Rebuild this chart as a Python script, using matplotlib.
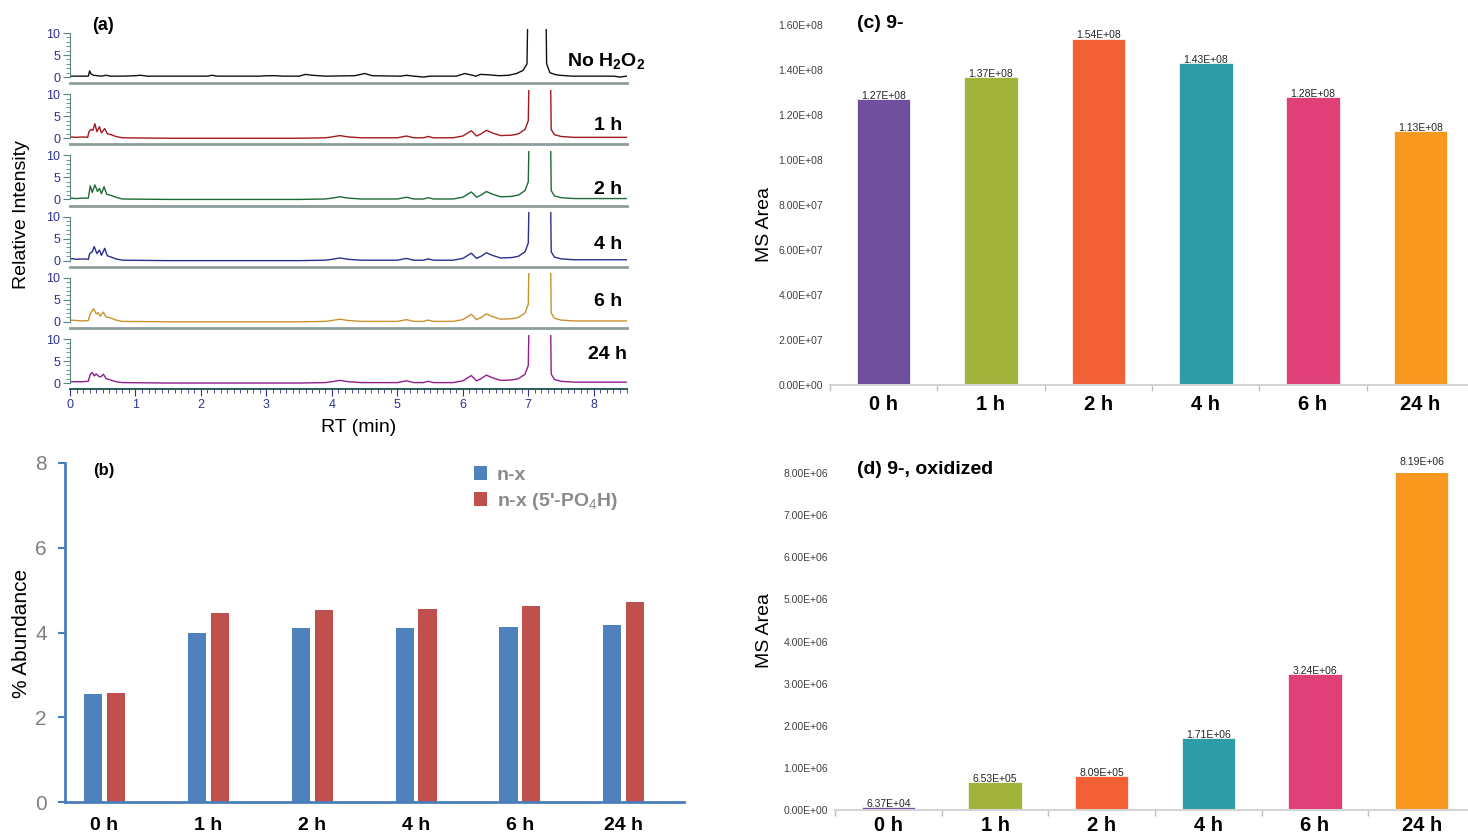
import matplotlib
matplotlib.use("Agg")
import matplotlib.pyplot as plt
from matplotlib.font_manager import FontProperties, findfont

W, H = 1468, 836

# ---- data ----------------------------------------------------------------
trace_labels = [r"No H$_\mathbf{2}$O$_\mathbf{2}$", "1 h", "2 h", "4 h", "6 h", "24 h"]
trace_colors = ["#111111", "#a3191c", "#1d6b34", "#2b2f8c", "#c8922e", "#8f1f8c"]

# control trace (RT, relative intensity)
ctrl_trace = [(0.00, 0.2), (0.20, 0.2), (0.28, 0.2), (0.30, 1.4), (0.32, 0.7), (0.36, 0.4),
              (0.42, 0.3), (0.48, 0.2), (0.55, 0.4), (0.62, 0.2), (0.80, 0.2), (1.00, 0.3),
              (1.08, 0.4), (1.18, 0.2), (2.10, 0.2), (2.17, 0.4), (2.25, 0.2), (2.90, 0.2),
              (3.00, 0.3), (3.15, 0.3), (3.25, 0.2), (3.50, 0.2), (3.60, 0.6), (3.70, 0.4),
              (3.80, 0.3), (3.90, 0.2), (4.35, 0.3), (4.50, 0.8), (4.62, 0.3), (5.05, 0.2),
              (5.14, 0.4), (5.25, 0.2), (5.40, 0.0), (5.50, 0.2), (5.90, 0.2), (6.03, 0.8),
              (6.12, 0.5), (6.20, 0.2), (6.27, 0.6), (6.40, 0.5), (6.55, 0.3), (6.70, 0.4),
              (6.82, 0.8), (6.92, 1.5), (6.98, 3.0), (7.02, 40.0), (7.25, 40.0), (7.28, 3.0),
              (7.33, 1.0), (7.40, 0.6), (7.48, 0.4), (7.67, 0.2), (8.30, 0.2), (8.40, 0.0),
              (8.50, 0.2)]

# early eluting cluster for each H2O2 time point
early_1h = [(0.00, 0.3), (0.10, 0.2), (0.20, 0.3), (0.27, 0.2), (0.29, 1.5), (0.32, 2.0),
            (0.35, 1.8), (0.38, 3.3), (0.41, 1.5), (0.45, 2.6), (0.48, 1.2), (0.53, 2.2),
            (0.57, 1.0), (0.63, 0.8), (0.70, 0.4)]
early_2h = [(0.00, 0.3), (0.10, 0.2), (0.20, 0.3), (0.28, 0.3), (0.31, 3.1), (0.34, 1.6),
            (0.38, 3.3), (0.42, 1.8), (0.45, 2.5), (0.48, 1.3), (0.52, 2.9), (0.56, 1.2),
            (0.63, 0.9), (0.70, 0.5)]
early_4h = [(0.00, 0.5), (0.10, 0.3), (0.20, 0.4), (0.28, 0.3), (0.30, 1.6), (0.34, 2.0),
            (0.37, 3.2), (0.41, 1.6), (0.45, 2.4), (0.48, 1.2), (0.53, 2.8), (0.57, 1.1),
            (0.63, 0.8), (0.70, 0.4)]
early_6h = [(0.00, 0.4), (0.10, 0.3), (0.20, 0.2), (0.28, 0.3), (0.31, 1.8), (0.36, 3.0),
            (0.40, 1.8), (0.43, 2.1), (0.46, 1.3), (0.51, 2.2), (0.55, 1.1), (0.62, 0.9),
            (0.70, 0.4)]
early_24h = [(0.00, 0.3), (0.10, 0.3), (0.20, 0.3), (0.28, 0.4), (0.31, 2.0), (0.34, 2.4),
             (0.37, 1.6), (0.40, 2.1), (0.44, 1.5), (0.47, 1.4), (0.51, 2.0), (0.55, 1.0),
             (0.62, 0.7), (0.70, 0.3)]

# rest of the run, nearly identical for all H2O2 samples
late_oxidized = [(0.80, 0.1), (1.50, 0.0), (2.50, 0.0), (3.50, 0.0), (3.90, 0.1), (4.00, 0.3),
                 (4.12, 0.6), (4.25, 0.3), (4.45, 0.1), (5.00, 0.1), (5.14, 0.5), (5.25, 0.1),
                 (5.40, 0.1), (5.47, 0.4), (5.55, 0.1), (5.85, 0.1), (6.00, 0.5), (6.13, 1.7),
                 (6.21, 0.5), (6.28, 1.0), (6.36, 1.8), (6.45, 1.2), (6.58, 0.6), (6.75, 0.7),
                 (6.85, 1.0), (6.95, 2.0), (7.00, 4.0), (7.04, 40.0), (7.32, 40.0), (7.35, 2.0),
                 (7.40, 0.8), (7.50, 0.4), (7.70, 0.2), (8.50, 0.2)]

traces = [ctrl_trace, early_1h + late_oxidized, early_2h + late_oxidized,
          early_4h + late_oxidized, early_6h + late_oxidized, early_24h + late_oxidized]

time_points = ["0 h", "1 h", "2 h", "4 h", "6 h", "24 h"]

# (b) % abundance
abund_nx = [2.54, 3.98, 4.11, 4.10, 4.12, 4.18]
abund_nx_po4 = [2.58, 4.47, 4.54, 4.56, 4.63, 4.72]

# (c) and (d) MS areas
area_9 = [1.27e8, 1.37e8, 1.54e8, 1.43e8, 1.28e8, 1.13e8]
area_9_ox = [6.37e4, 6.53e5, 8.09e5, 1.71e6, 3.24e6, 8.19e6]
bar_colors = ["#6f4f9e", "#a1b33a", "#f46036", "#2e9ca6", "#df4078", "#f8981e"]


def pick_font(name, fallback):
    try:
        findfont(FontProperties(family=name), fallback_to_default=False)
        return name
    except ValueError:
        return fallback


plt.rcParams["font.family"] = ["Liberation Sans", "DejaVu Sans"]
plt.rcParams["mathtext.fontset"] = "custom"
plt.rcParams["mathtext.rm"] = "Liberation Sans"
plt.rcParams["mathtext.bf"] = "Liberation Sans:bold"
NARROW = pick_font("Liberation Sans Narrow", "Liberation Sans")

fig = plt.figure(figsize=(W / 100, H / 100), dpi=100)


def px_axes(left, top, right, bottom):
    return fig.add_axes([left / W, 1 - bottom / H, (right - left) / W, (bottom - top) / H])


def px_text(x, y, s, **kw):
    return fig.text(x / W, 1 - y / H, s, **kw)


# ---- (a) stacked chromatograms --------------------------------------------
navy = "#2e3192"
label_pos = [(645, 62), (622, 125), (622, 190), (622, 244), (622, 301), (627, 354)]
for i, (trace, color, lab) in enumerate(zip(traces, trace_colors, trace_labels)):
    y0 = 77 + 61.2 * i
    ax = px_axes(70, y0 - 48.4, 626.5, y0 + 6.2)
    rt = [p[0] for p in trace]
    val = [p[1] for p in trace]
    ax.plot(rt, val, color=color, lw=1.0)
    ax.set_xlim(0, 8.5)
    ax.set_ylim(-1.4, 11)
    ax.set_yticks([0, 5, 10])
    ax.set_yticks(range(0, 11), minor=True)
    ax.tick_params(axis="y", which="major", length=5, width=0.8, color="#5b8585",
                   labelcolor=navy, labelsize=9, pad=2)
    ax.tick_params(axis="y", which="minor", length=3, width=0.6, color="#5b8585")
    ax.spines["left"].set_bounds(0, 10)
    ax.spines["left"].set_color("#5b8585")
    ax.spines["top"].set_visible(False)
    ax.spines["right"].set_visible(False)
    if i < 5:
        ax.spines["bottom"].set_color("#8d9d9d")
        ax.spines["bottom"].set_linewidth(2)
        ax.set_xticks([])
    else:
        ax.spines["bottom"].set_color("#2f5a5a")
        ax.spines["bottom"].set_linewidth(1.4)
        ax.set_xticks(range(0, 9))
        ax.set_xticks([k / 10 for k in range(0, 86)], minor=True)
        ax.tick_params(axis="x", which="major", length=5, color=navy,
                       labelcolor=navy, labelsize=9, pad=2)
        ax.tick_params(axis="x", which="minor", length=3, width=0.6, color=navy)
    ax.patch.set_alpha(0)
    lx, ly = label_pos[i]
    px_text(lx, ly, lab, ha="right", va="center", fontsize=14, fontweight="bold")

px_text(103, 25, "(a)", ha="center", va="center", fontsize=13, fontweight="bold")
px_text(22, 215, "Relative Intensity", rotation=90, ha="center", va="center", fontsize=14)
px_text(359, 428, "RT (min)", ha="center", va="center", fontsize=14)

# ---- (b) % abundance -------------------------------------------------------
axb = px_axes(65, 463, 684, 802)
x = list(range(len(time_points)))
axb.bar([k - 0.11 for k in x], abund_nx, width=0.175, color="#4f81bd", label="n-x")
axb.bar([k + 0.11 for k in x], abund_nx_po4, width=0.175, color="#c0504d",
        label="n-x (5'-PO$_4$H)")
axb.set_xlim(-0.38, 5.58)
axb.set_ylim(0, 8)
axb.set_yticks([0, 2, 4, 6, 8])
axb.set_xticks(x)
axb.set_xticklabels(time_points, fontsize=14, fontweight="bold", family=NARROW)
for t in axb.get_yticklabels():
    t.set_family(NARROW)
axb.tick_params(axis="y", length=5, width=1.5, color="#4a7ebb", labelcolor="#808080",
                labelsize=15, pad=8)
axb.tick_params(axis="x", length=0, pad=11)
for s in ["top", "right"]:
    axb.spines[s].set_visible(False)
for s in ["left", "bottom"]:
    axb.spines[s].set_color("#4a7ebb")
    axb.spines[s].set_linewidth(2)
leg = axb.legend(loc="upper left", bbox_to_anchor=(0.66, 0.99), frameon=False,
                 handlelength=0.7, handleheight=0.7, handletextpad=0.5, labelspacing=0.35,
                 borderpad=0, borderaxespad=0,
                 prop={"size": 14, "weight": "bold", "family": NARROW})
for t in leg.get_texts():
    t.set_color("#8a8a8a")
px_text(104, 470, "(b)", ha="center", va="center", fontsize=12, fontweight="bold")
px_text(22, 633, "% Abundance", rotation=90, ha="center", va="center", fontsize=15)


# ---- (c) and (d) MS area bars ------------------------------------------------
def ms_area_panel(box, values, ymax, step, title, title_y, ylab_y, xpad):
    ax = px_axes(*box)
    xs = list(range(len(values)))
    ax.bar(xs, values, width=0.5, color=bar_colors, edgecolor="white", linewidth=0.5)
    for xi, v in zip(xs, values):
        ax.text(xi, v, f"{v:.2E}", ha="center", va="baseline", fontsize=7.5,
                family=NARROW, color="#262626", clip_on=False)
    ax.set_xlim(-0.5, 5.5)
    ax.set_ylim(0, ymax)
    ticks = [step * k for k in range(int(round(ymax / step)) + 1)]
    ax.set_yticks(ticks)
    ax.set_yticklabels([f"{t:.2E}" for t in ticks], fontsize=7.5, family=NARROW,
                       color="#404040")
    ax.tick_params(axis="y", length=0, pad=5)
    ax.set_xticks(xs)
    ax.set_xticklabels(time_points, fontsize=14.5, fontweight="bold")
    ax.set_xticks([k - 0.5 for k in range(len(values) + 1)], minor=True)
    ax.tick_params(axis="x", which="major", length=0, pad=xpad)
    ax.tick_params(axis="x", which="minor", length=4, width=1, color="#bfbfbf")
    for s in ["top", "right", "left"]:
        ax.spines[s].set_visible(False)
    ax.spines["bottom"].set_color("#d4d4d4")
    ax.spines["bottom"].set_linewidth(1.5)
    px_text(857, title_y, title, ha="left", va="center", fontsize=14, fontweight="bold")
    px_text(765, ylab_y, "MS Area", rotation=90, ha="center", va="center", fontsize=14)
    return ax


ms_area_panel((830, 25, 1474, 385), area_9, 1.6e8, 2e7, "(c) 9-", 24, 225, 7)
ms_area_panel((835, 473, 1475, 810), area_9_ox, 8e6, 1e6, "(d) 9-, oxidized", 470, 630, 4)

fig.savefig("out.png", dpi=100)
